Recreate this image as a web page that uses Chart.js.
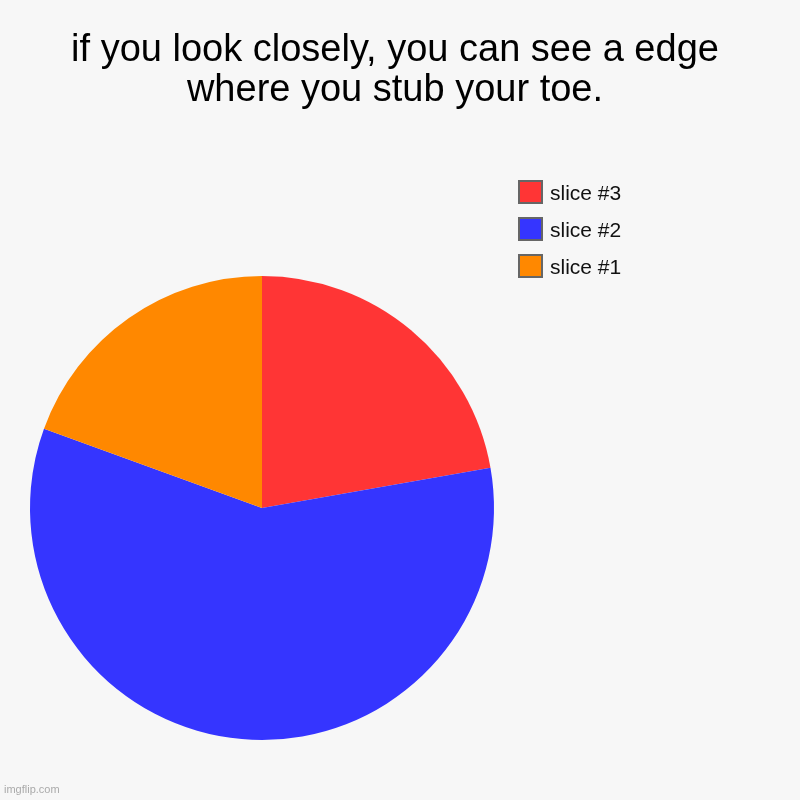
<!DOCTYPE html>
<html>
<head>
<meta charset="utf-8">
<script src="https://cdn.jsdelivr.net/npm/chart.js@4/dist/chart.umd.min.js"></script>
<style>
    html, body { margin: 0; padding: 0; background: #f7f7f7; }
    #wrap { position: relative; width: 800px; height: 800px; overflow: hidden; font-family: "Liberation Sans", Arial, sans-serif; }
    #pie { position: absolute; left: 0; top: 0; }
    .title { position: absolute; left: 0; top: 28px; width: 790px; text-align: center; font-size: 38px; line-height: 40px; color: #000; }
    .legend { position: absolute; left: 518px; top: 180px; }
    .legend-row { display: flex; height: 37px; align-items: flex-start; }
    .legend-box { box-sizing: border-box; width: 25px; height: 24px; border: 2px solid #666; margin-right: 7px; }
    .legend-text { font-size: 21px; line-height: 24px; padding-top: 1px; color: #111; }
    .watermark { position: absolute; left: 4px; top: 783px; font-size: 11px; color: #aaa; }
</style>
</head>
<body>
<div id="wrap">
    <canvas id="pie" width="800" height="800"></canvas>
    <div class="title" id="title"></div>
    <div class="legend" id="legend"></div>
    <div class="watermark">imgflip.com</div>
</div>
<script>
// 標題
const titleLines = ["if you look closely, you can see a edge", "where you stub your toe."];
// 切片 (順時針從上方開始)
const sliceLabels = ["slice #3", "slice #2", "slice #1"];
const sliceValues = [8, 21, 7];
const sliceColors = ["#ff3535", "#3535ff", "#ff8800"];

document.getElementById("title").innerHTML = titleLines.join("<br>");

// legend 用 html 畫
let legendHtml = "";
sliceLabels.forEach(function (label, i) {
    legendHtml += '<div class="legend-row">' +
        '<div class="legend-box" style="background:' + sliceColors[i] + '"></div>' +
        '<span class="legend-text">' + label + '</span>' +
        '</div>';
});
document.getElementById("legend").innerHTML = legendHtml;

new Chart(document.getElementById("pie"), {
    type: "pie",
    data: {
        labels: sliceLabels,
        datasets: [{
            data: sliceValues,
            backgroundColor: sliceColors,
            borderWidth: 0,
            hoverOffset: 0
        }]
    },
    options: {
        responsive: false,
        animation: false,
        devicePixelRatio: 1,
        layout: {
            padding: { left: 30, top: 276, right: 306, bottom: 60 }
        },
        plugins: {
            legend: { display: false },
            title: { display: false },
            tooltip: { enabled: false }
        }
    }
});
</script>
</body>
</html>
